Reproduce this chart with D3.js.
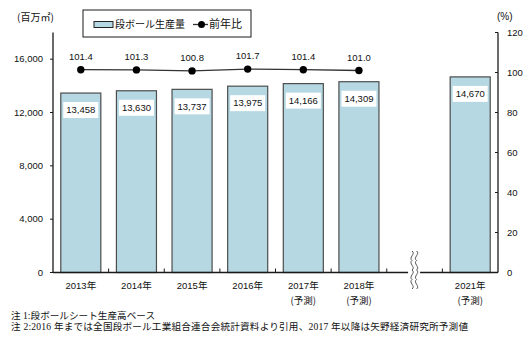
<!DOCTYPE html>
<html>
<head>
<meta charset="utf-8">
<script src="https://cdn.jsdelivr.net/npm/d3@7"></script>
<style>
  html, body { margin: 0; padding: 0; background: #fff; }
  svg { display: block; }
  .num { font-family: "Liberation Sans", Arial, sans-serif; font-size: 9.5px; fill: #111; }
  .jp { font-family: "Noto Sans CJK JP", sans-serif; fill: #111; }
  .note { font-family: "Liberation Serif", "Noto Sans CJK JP", serif; font-size: 9.6px; fill: #111; }
</style>
</head>
<body>
<svg id="chart" width="529" height="348"></svg>
<script>
// Corrugated board production (million m²) and year-on-year ratio (%)
const years = ["2013年", "2014年", "2015年", "2016年", "2017年", "2018年", "2021年"];
const subLabels = ["", "", "", "", "(予測)", "(予測)", "(予測)"];
const production = [13458, 13630, 13737, 13975, 14166, 14309, 14670];
const yoyYears = ["2013年", "2014年", "2015年", "2016年", "2017年", "2018年"];
const yoyRatio = [101.4, 101.3, 100.8, 101.7, 101.4, 101.0];
const leftTicks = [0, 4000, 8000, 12000, 16000];
const rightTicks = [0, 20, 40, 60, 80, 100, 120];
const notes = [
  "注 1:段ボールシート生産高ベース",
  "注 2:2016 年までは全国段ボール工業組合連合会統計資料より引用、2017 年以降は矢野経済研究所予測値"
];
const noteWidths = [144, 457];
const BREAK = "__break__";

const svg = d3.select("#chart");
const plot = { left: 53, right: 498, top: 32.5, bottom: 272.5 };

// x slots: six yearly bars, an empty slot for the axis break, then 2021
const slots = years.slice(0, 6).concat([BREAK, years[6]]);
const x = d3.scaleBand().domain(slots)
  .range([plot.left, plot.right]).paddingInner(0.28).paddingOuter(0.14);
const yL = d3.scaleLinear().domain([0, 18000]).range([plot.bottom, plot.top]);
const yR = d3.scaleLinear().domain([0, 120]).range([plot.bottom, plot.top]);

const barFill = "#b5d8e3";
const ink = "#1a1a1a";

// bars
svg.append("g").selectAll("rect").data(production).join("rect")
  .attr("x", (d, i) => x(years[i]))
  .attr("y", d => yL(d))
  .attr("width", x.bandwidth())
  .attr("height", d => yL(0) - yL(d))
  .attr("fill", barFill)
  .attr("stroke", "#4d4d4d")
  .attr("stroke-width", 1.2);

// value labels on white boxes
const vl = svg.append("g").selectAll("g").data(production).join("g")
  .attr("transform", (d, i) => `translate(${x(years[i]) + x.bandwidth() / 2},${yL(d) + 17})`);
vl.append("rect").attr("x", -17.5).attr("y", -8).attr("width", 35).attr("height", 16).attr("fill", "#fff");
vl.append("text").attr("class", "num").attr("text-anchor", "middle").attr("dy", "0.35em")
  .text(d => d3.format(",")(d));

// left axis
const gL = svg.append("g");
gL.append("line").attr("x1", plot.left).attr("x2", plot.left)
  .attr("y1", plot.top).attr("y2", plot.bottom).attr("stroke", ink).attr("stroke-width", 1.3);
gL.selectAll(".t").data(leftTicks).join("line")
  .attr("x1", plot.left - 3).attr("x2", plot.left)
  .attr("y1", d => yL(d)).attr("y2", d => yL(d)).attr("stroke", ink);
gL.selectAll("text").data(leftTicks).join("text").attr("class", "num")
  .attr("x", plot.left - 10).attr("y", d => yL(d)).attr("dy", "0.35em")
  .attr("text-anchor", "end").text(d => d3.format(",")(d));

// right axis
const gR = svg.append("g");
gR.append("line").attr("x1", plot.right).attr("x2", plot.right)
  .attr("y1", plot.top).attr("y2", plot.bottom).attr("stroke", ink).attr("stroke-width", 1.3);
gR.selectAll(".t").data(rightTicks).join("line")
  .attr("x1", plot.right - 3).attr("x2", plot.right)
  .attr("y1", d => yR(d)).attr("y2", d => yR(d)).attr("stroke", ink);
gR.selectAll("text").data(rightTicks).join("text").attr("class", "num")
  .attr("x", plot.right + 9).attr("y", d => yR(d)).attr("dy", "0.35em")
  .attr("text-anchor", "start").text(d => d);

// x axis baseline with slot ticks and the break gap
const breakX = x(BREAK) + x.bandwidth() / 2;
const gX = svg.append("g");
gX.append("line").attr("x1", plot.left).attr("x2", breakX - 6.5)
  .attr("y1", plot.bottom).attr("y2", plot.bottom).attr("stroke", ink).attr("stroke-width", 1.6);
gX.append("line").attr("x1", breakX + 5.5).attr("x2", plot.right)
  .attr("y1", plot.bottom).attr("y2", plot.bottom).attr("stroke", ink).attr("stroke-width", 1.6);
const boundaries = slots.slice(1).map(s => x(s) - x.step() * x.paddingInner() / 2);
gX.selectAll(".bt").data(boundaries).join("line")
  .attr("x1", d => d).attr("x2", d => d)
  .attr("y1", plot.bottom - 4).attr("y2", plot.bottom).attr("stroke", ink).attr("stroke-width", 1);

// wavy break mark
const wave = (x0) => {
  const p = d3.path();
  const top = plot.bottom - 21.5, h = 9.5;
  p.moveTo(x0, top);
  for (let k = 0; k < 4; k++) {
    const y0 = top + k * h;
    const dir = k % 2 === 0 ? 1 : -1;
    p.bezierCurveTo(x0 + dir * 4, y0 + h * 0.3, x0 - dir * 4, y0 + h * 0.7, x0, y0 + h);
  }
  return p.toString();
};
[breakX - 2.5, breakX + 2].forEach(xx => {
  gX.append("path").attr("d", wave(xx)).attr("fill", "none").attr("stroke", "#444").attr("stroke-width", 0.9);
});

// x labels
const gXL = svg.append("g");
years.forEach((yr, i) => {
  const cx = x(yr) + x.bandwidth() / 2;
  gXL.append("text").attr("class", "num").attr("x", cx).attr("y", 286).attr("dy", "0.35em")
    .attr("text-anchor", "middle").text(yr.replace("年", ""))
    .append("tspan").attr("class", "jp").style("font-size", "9.5px").text("年");
  if (subLabels[i]) {
    gXL.append("text").attr("class", "jp").style("font-size", "9.5px")
      .attr("x", cx).attr("y", 301).attr("dy", "0.35em")
      .attr("text-anchor", "middle").text(subLabels[i]);
  }
});

// year-on-year line
const line = d3.line().x((d, i) => x(yoyYears[i]) + x.bandwidth() / 2).y(d => yR(d));
svg.append("path").datum(yoyRatio).attr("d", line)
  .attr("fill", "none").attr("stroke", "#333").attr("stroke-width", 1.3);
svg.append("g").selectAll("circle").data(yoyRatio).join("circle")
  .attr("cx", (d, i) => x(yoyYears[i]) + x.bandwidth() / 2).attr("cy", d => yR(d))
  .attr("r", 3.7).attr("fill", "#000");
svg.append("g").selectAll("text").data(yoyRatio).join("text").attr("class", "num")
  .attr("x", (d, i) => x(yoyYears[i]) + x.bandwidth() / 2).attr("y", d => yR(d) - 13)
  .attr("dy", "0.35em").attr("text-anchor", "middle").text(d => d.toFixed(1));

// unit labels
svg.append("text").attr("class", "jp").style("font-size", "10px")
  .attr("x", 17).attr("y", 17).attr("dy", "0.35em").text("(百万㎡)");
svg.append("text").attr("class", "num").style("font-size", "10px")
  .attr("x", 497).attr("y", 16).attr("dy", "0.35em").text("(%)");

// legend
const lg = svg.append("g");
lg.append("rect").attr("x", 83).attr("y", 10).attr("width", 168).attr("height", 27)
  .attr("fill", "#fff").attr("stroke", ink).attr("stroke-width", 1);
lg.append("rect").attr("x", 94).attr("y", 21.5).attr("width", 19).attr("height", 6)
  .attr("fill", barFill).attr("stroke", "#222").attr("stroke-width", 1);
lg.append("text").attr("class", "jp").style("font-size", "10px")
  .attr("x", 115).attr("y", 24.5).attr("dy", "0.35em").text("段ボール生産量");
lg.append("line").attr("x1", 193).attr("x2", 208).attr("y1", 24.5).attr("y2", 24.5)
  .attr("stroke", "#333").attr("stroke-width", 1.3);
lg.append("circle").attr("cx", 201.5).attr("cy", 24.5).attr("r", 3.5).attr("fill", "#000");
lg.append("text").attr("class", "jp").style("font-size", "11px")
  .attr("x", 209).attr("y", 24.5).attr("dy", "0.35em").text("前年比");

// footnotes
svg.append("g").selectAll("text").data(notes).join("text").attr("class", "note")
  .attr("x", 11).attr("y", (d, i) => 315.5 + i * 11.5).attr("dy", "0.35em")
  .attr("textLength", (d, i) => noteWidths[i]).attr("lengthAdjust", "spacing")
  .text(d => d);
</script>
</body>
</html>
